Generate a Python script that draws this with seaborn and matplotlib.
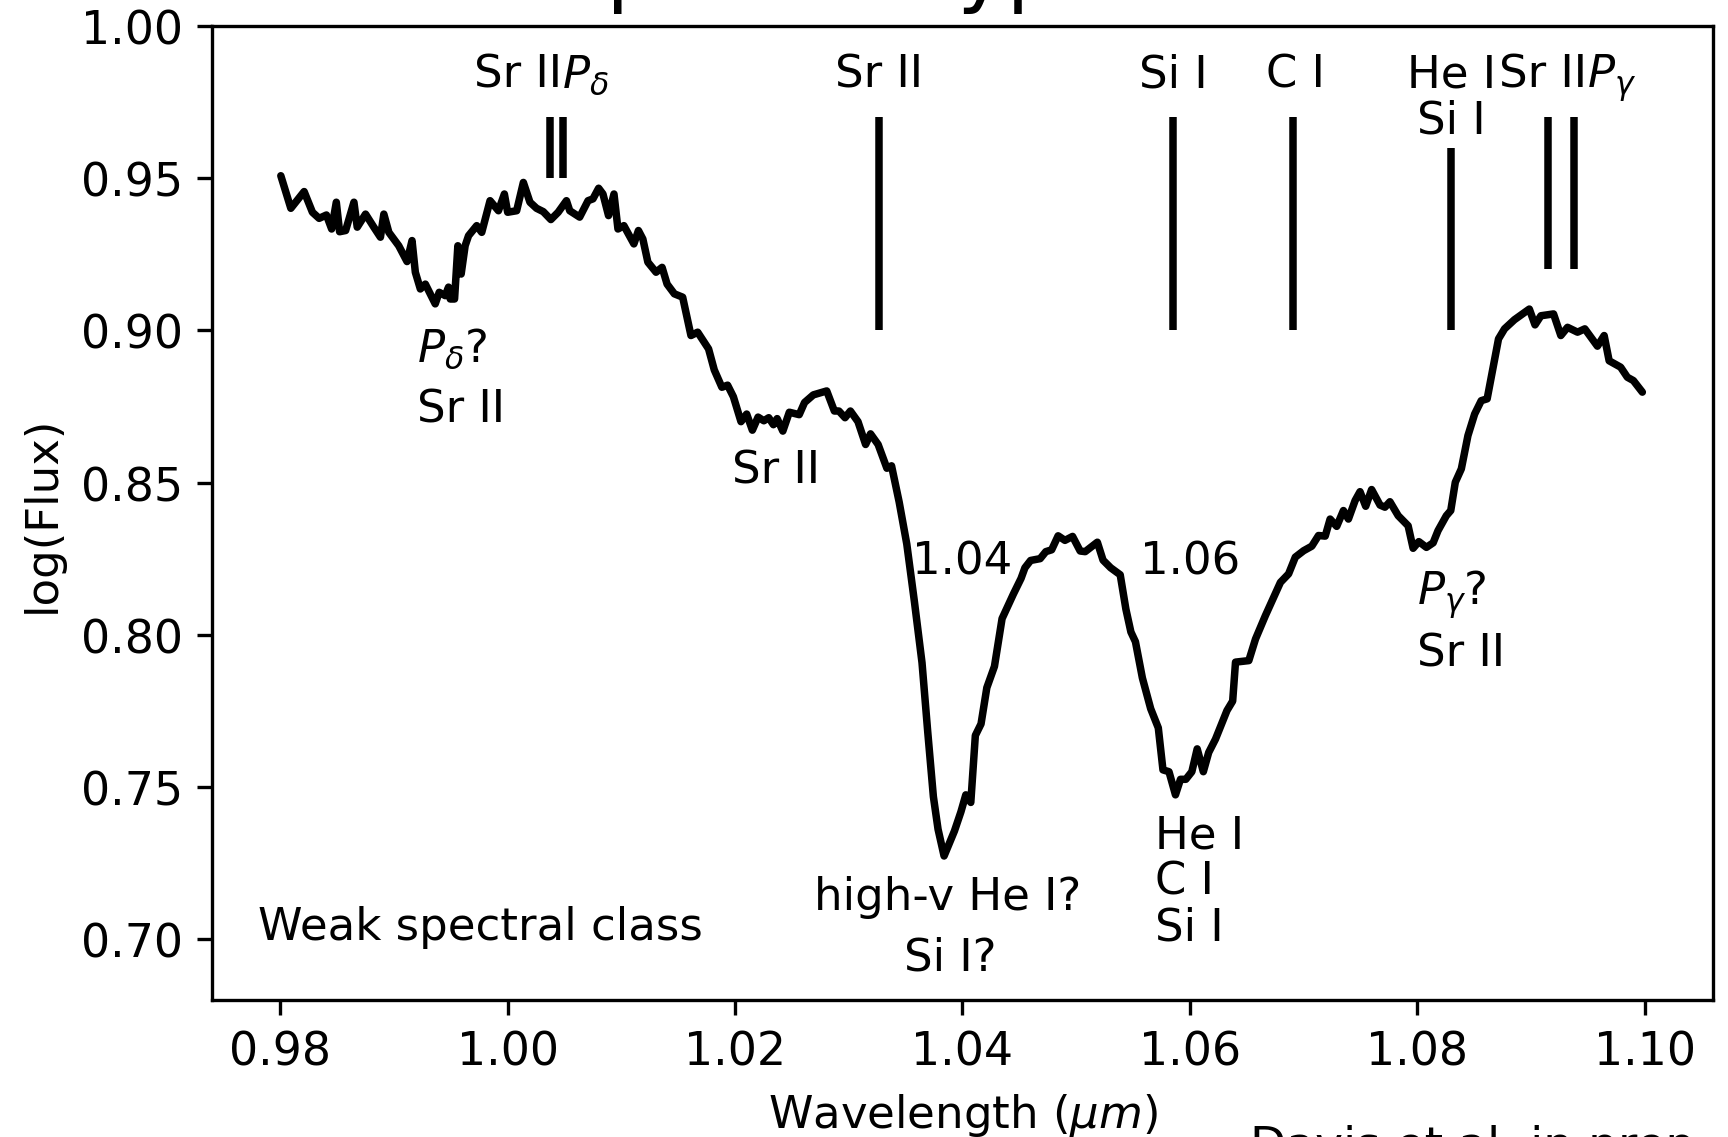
import matplotlib
matplotlib.use("Agg")
import matplotlib.pyplot as plt
import pandas as pd
import seaborn as sns

# ---------------- data ----------------
wavelength = [
    0.98005, 0.98093, 0.98210, 0.98283, 0.98342, 0.98406, 0.98452, 0.98493, 0.98522, 0.98575,
    0.98648, 0.98677, 0.98750, 0.98823, 0.98881, 0.98911, 0.98955, 0.99042, 0.99115, 0.99159,
    0.99188, 0.99232, 0.99276, 0.99363, 0.99398, 0.99451, 0.99480, 0.99495, 0.99533, 0.99562,
    0.99591, 0.99626, 0.99656, 0.99728, 0.99772, 0.99845, 0.99919, 0.99971, 1.00000, 1.00079,
    1.00138, 1.00196, 1.00254, 1.00313, 1.00380, 1.00444, 1.00517, 1.00546, 1.00633, 1.00707,
    1.00750, 1.00800, 1.00838, 1.00887, 1.00935, 1.00970, 1.01022, 1.01110, 1.01150, 1.01189,
    1.01233, 1.01305, 1.01358, 1.01402, 1.01466, 1.01539, 1.01612, 1.01671,
    1.01767, 1.01817, 1.01884, 1.01934, 1.01985, 1.02052, 1.02102, 1.02152, 1.02202, 1.02253,
    1.02296, 1.02337, 1.02370, 1.02420, 1.02477, 1.02564, 1.02611, 1.02688, 1.02806, 1.02873,
    1.02913, 1.02967, 1.03014, 1.03081, 1.03148, 1.03191, 1.03258, 1.03335, 1.03376, 1.03443,
    1.03510, 1.03577, 1.03644, 1.03694, 1.03744, 1.03785, 1.03838, 1.03929, 1.03986, 1.04029,
    1.04073, 1.04113, 1.04163, 1.04214, 1.04281, 1.04348, 1.04448, 1.04515, 1.04549, 1.04599,
    1.04683, 1.04733, 1.04784, 1.04841, 1.04901, 1.04968, 1.05035, 1.05079, 1.05186, 1.05236,
    1.05303, 1.05387, 1.05437, 1.05481, 1.05521, 1.05582, 1.05655, 1.05722, 1.05763, 1.05816,
    1.05873, 1.05917, 1.05964, 1.06017, 1.06064, 1.06118, 1.06165, 1.06225, 1.06326, 1.06376,
    1.06401, 1.06518, 1.06577, 1.06664, 1.06796, 1.06868, 1.06927, 1.07000, 1.07072, 1.07131,
    1.07190, 1.07233, 1.07291, 1.07350, 1.07394, 1.07453, 1.07496, 1.07546, 1.07598, 1.07672,
    1.07715, 1.07759, 1.07832, 1.07919, 1.07963, 1.08013, 1.08080, 1.08139, 1.08182, 1.08255,
    1.08294, 1.08334, 1.08387, 1.08445, 1.08504, 1.08562, 1.08614, 1.08664, 1.08714, 1.08767,
    1.08854, 1.08985, 1.09035, 1.09087, 1.09198, 1.09262, 1.09321, 1.09409, 1.09473, 1.09584,
    1.09643, 1.09687, 1.09788, 1.09847, 1.09900, 1.09979,
]
log_flux = [
    0.9508, 0.9401, 0.9456, 0.9388, 0.9368, 0.9379, 0.9333, 0.9421, 0.9324, 0.9328,
    0.9421, 0.9339, 0.9382, 0.9339, 0.9306, 0.9382, 0.9322, 0.9278, 0.9226, 0.9295,
    0.9191, 0.9136, 0.9152, 0.9087, 0.9125, 0.9114, 0.9142, 0.9103, 0.9103, 0.9278,
    0.9185, 0.9278, 0.9311, 0.9344, 0.9322, 0.9426, 0.9393, 0.9448, 0.9388, 0.9393,
    0.9486, 0.9421, 0.9401, 0.9390, 0.9364, 0.9388, 0.9426, 0.9393, 0.9372, 0.9426,
    0.9432, 0.9467, 0.9448, 0.9377, 0.9448, 0.9333, 0.9344, 0.9284, 0.9328, 0.9300,
    0.9224, 0.9191, 0.9207, 0.9152, 0.9120, 0.9109, 0.8983, 0.8994,
    0.8939, 0.8870, 0.8813, 0.8820, 0.8782, 0.8700, 0.8725, 0.8672, 0.8715, 0.8703,
    0.8713, 0.8690, 0.8710, 0.8669, 0.8731, 0.8723, 0.8763, 0.8788, 0.8801, 0.8735,
    0.8735, 0.8713, 0.8735, 0.8700, 0.8625, 0.8660, 0.8625, 0.8547, 0.8555, 0.8436,
    0.8298, 0.8109, 0.7908, 0.7682, 0.7468, 0.7361, 0.7273, 0.7355, 0.7418, 0.7474,
    0.7449, 0.7669, 0.7707, 0.7826, 0.7896, 0.8053, 0.8134, 0.8185, 0.8220, 0.8244,
    0.8250, 0.8273, 0.8279, 0.8325, 0.8310, 0.8323, 0.8275, 0.8273, 0.8304, 0.8245,
    0.8220, 0.8197, 0.8084, 0.8009, 0.7977, 0.7858, 0.7757, 0.7694, 0.7556, 0.7550,
    0.7474, 0.7525, 0.7525, 0.7550, 0.7625, 0.7550, 0.7613, 0.7657, 0.7751, 0.7782,
    0.7910, 0.7915, 0.7986, 0.8063, 0.8172, 0.8200, 0.8255, 0.8276, 0.8291, 0.8326,
    0.8324, 0.8380, 0.8356, 0.8408, 0.8380, 0.8441, 0.8470, 0.8422, 0.8477, 0.8426,
    0.8419, 0.8437, 0.8391, 0.8358, 0.8284, 0.8306, 0.8287, 0.8302, 0.8342, 0.8391,
    0.8408, 0.8501, 0.8545, 0.8654, 0.8725, 0.8769, 0.8775, 0.8873, 0.8972, 0.9005,
    0.9035, 0.9070, 0.9018, 0.9048, 0.9054, 0.8983, 0.9010, 0.8994, 0.9005, 0.8948,
    0.8983, 0.8900, 0.8879, 0.8846, 0.8835, 0.8797,
]

# line markers (wavelength, bottom, top)
line_wavelengths = [1.0037, 1.0049, 1.0327, 1.0585, 1.0691, 1.0830, 1.0915, 1.0938]
line_bottom = [0.95, 0.95, 0.90, 0.90, 0.90, 0.90, 0.92, 0.92]
line_top = [0.97, 0.97, 0.97, 0.97, 0.97, 0.96, 0.97, 0.97]

# labels: text, x, y, horizontal alignment
label_texts = ["Sr II", r"$P_\delta$", "Sr II", "Si I", "C I", "He I", "Si I",
               "Sr II", r"$P_\gamma$",
               r"$P_\delta$?", "Sr II", "Sr II", "1.04", "1.06",
               "high-v He I?", "Si I?", "He I", "C I", "Si I",
               r"$P_\gamma$?", "Sr II", "Weak spectral class"]
label_x = [1.0048, 1.0048, 1.0327, 1.0585, 1.0693, 1.0830, 1.0830,
           1.0949, 1.0949,
           0.9920, 0.9920, 1.0197, 1.0400, 1.0600,
           1.0387, 1.0389, 1.0569, 1.0569, 1.0569,
           1.0800, 1.0800, 0.9780]
label_y = [0.98, 0.98, 0.98, 0.98, 0.98, 0.98, 0.965,
           0.98, 0.98,
           0.89, 0.87, 0.85, 0.82, 0.82,
           0.71, 0.69, 0.73, 0.715, 0.70,
           0.81, 0.79, 0.70]
label_ha = ["right", "left", "center", "center", "center", "center", "center",
            "right", "left",
            "left", "left", "left", "center", "center",
            "center", "center", "left", "left", "left",
            "left", "left", "left"]

x_ticks = [0.98, 1.00, 1.02, 1.04, 1.06, 1.08, 1.10]
y_ticks = [0.70, 0.75, 0.80, 0.85, 0.90, 0.95, 1.00]

FS = 10.8

# ---------------- plot ----------------
sns.set_style("ticks", rc={"axes.edgecolor": "black", "xtick.color": "black",
                           "ytick.color": "black", "text.color": "black",
                           "axes.labelcolor": "black"})
plt.rcParams["font.family"] = ["DejaVu Sans"]
plt.rcParams["font.size"] = FS
plt.rcParams["mathtext.fontset"] = "dejavusans"

fig = plt.figure(figsize=(5.76, 3.7933), dpi=300)
ax = fig.add_axes([0.1227, 0.1204, 0.8686, 0.8559])

df = pd.DataFrame({"wavelength": wavelength, "log_flux": log_flux})
sns.lineplot(data=df, x="wavelength", y="log_flux", color="black",
             linewidth=1.8, estimator=None, sort=False, ax=ax)

ax.vlines(line_wavelengths, line_bottom, line_top, colors="black", linewidth=1.8)

for t, x, y, ha in zip(label_texts, label_x, label_y, label_ha):
    ax.text(x, y, t, ha=ha, va="baseline", fontsize=FS)

ax.set_xlim(0.974, 1.106)
ax.set_ylim(0.68, 1.00)
ax.set_xticks(x_ticks)
ax.set_yticks(y_ticks)
ax.tick_params(labelsize=11, length=3.5, width=0.8, direction="out")
for s in ax.spines.values():
    s.set_linewidth(0.8)
    s.set_visible(True)

ax.set_xlabel(r"Wavelength ($\mu m$)", fontsize=FS)
ax.set_ylabel("log(Flux)", fontsize=FS)

# partially visible title and credit (cropped by the figure edges, as in the reference)
fig.text(308 / 1728, 1 + 3 / 1138, "Weak spectral type", fontsize=20,
         ha="left", va="baseline")
fig.text(1250 / 1728, (1138 - 1160) / 1138, "Davis et al. in prep",
         fontsize=11.3, ha="left", va="baseline")

fig.savefig("out.png", dpi=300)
